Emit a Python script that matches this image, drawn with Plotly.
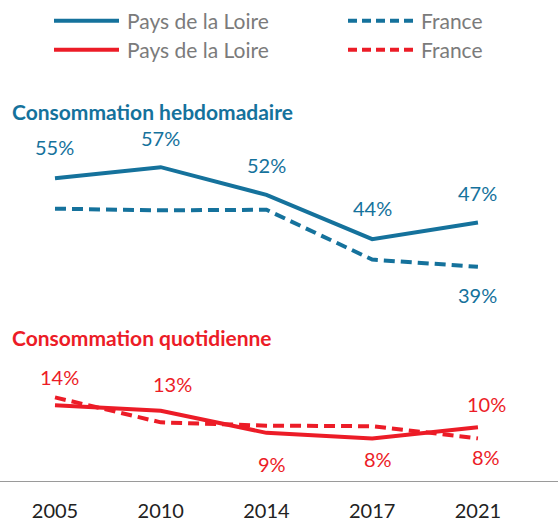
import plotly.graph_objects as go

years = ["2005", "2010", "2014", "2017", "2021"]
hebdo_pdl = [55, 57, 52, 44, 47]
hebdo_fr = [49.5, 49.2, 49.3, 40.3, 39]
quot_pdl = [14, 13, 9, 8, 10]
quot_fr = [15.4, 10.9, 10.3, 10.2, 8]

legend_labels = ["Pays de la Loire", "France"]
title_hebdo = "Consommation hebdomadaire"
title_quot = "Consommation quotidienne"

BLUE = "#15729c"
RED = "#ec1c27"
FONT = "Lato, 'Open Sans', sans-serif"

fig = go.Figure()

series = [
    (hebdo_pdl, BLUE, "solid"),
    (hebdo_fr, BLUE, "11px,6px"),
    (quot_pdl, RED, "solid"),
    (quot_fr, RED, "11px,6px"),
]
for vals, col, dash in series:
    fig.add_trace(go.Scatter(
        x=years, y=vals, mode="lines",
        line=dict(color=col, width=4, dash=dash),
        showlegend=False, hoverinfo="skip",
    ))

# data labels: (values, colour, per-point (yshift, xshift) or None)
label_specs = [
    (hebdo_pdl, BLUE, [(31, 0), (29, 0), (30, 0), (31, 0), (30, 0)]),
    (hebdo_fr, BLUE, [None, None, None, None, (-28, 0)]),
    (quot_pdl, RED, [(28, 5), (27, 12), (-31, 6), (-21, 6), (23, 9)]),
    (quot_fr, RED, [None, None, None, None, (-19, 8)]),
]
annotations = []
for vals, col, shifts in label_specs:
    for i, (v, s) in enumerate(zip(vals, shifts)):
        if s is None:
            continue
        annotations.append(dict(
            x=i, y=v, xref="x", yref="y", text=f"{round(v)}%",
            showarrow=False, yshift=s[0], xshift=s[1],
            xanchor="center", yanchor="middle",
            font=dict(family=FONT, size=20, color=col),
        ))

# section titles
annotations.append(dict(x=10 / 558, y=1 - 112 / 484, xref="paper", yref="paper",
                        xanchor="left", yanchor="middle", showarrow=False,
                        text=f"<b>{title_hebdo}</b>",
                        font=dict(family=FONT, size=21, color=BLUE)))
annotations.append(dict(x=10 / 558, y=1 - 340 / 484, xref="paper", yref="paper",
                        xanchor="left", yanchor="middle", showarrow=False,
                        text=f"<b>{title_quot}</b>",
                        font=dict(family=FONT, size=21, color=RED)))

# custom legend
shapes = []
leg_rows = [(21, BLUE), (50, RED)]
leg_cols = [(54, 119, "solid", legend_labels[0]), (348, 413, "dash", legend_labels[1])]
for ry, col in leg_rows:
    for x0, x1, dash, lab in leg_cols:
        shapes.append(dict(type="line", xref="paper", yref="paper",
                           x0=x0 / 558, x1=x1 / 558, y0=1 - ry / 484, y1=1 - ry / 484,
                           line=dict(color=col, width=4,
                                     dash="solid" if dash == "solid" else "9px,5px")))
        annotations.append(dict(x=(x1 + 6) / 558, y=1 - ry / 484, xref="paper", yref="paper",
                                xanchor="left", yanchor="middle", showarrow=False,
                                text=lab, font=dict(family=FONT, size=21, color="#7b7b7b")))

fig.update_layout(
    width=558, height=522,
    margin=dict(l=0, r=0, t=0, b=38),
    paper_bgcolor="white", plot_bgcolor="white",
    annotations=annotations, shapes=shapes,
    xaxis=dict(type="category", range=[-0.52, 4.757], showline=True,
               linecolor="#9a9a9a", linewidth=1, showgrid=False, zeroline=False,
               ticks="outside", ticklen=12, tickcolor="rgba(0,0,0,0)",
               tickfont=dict(family=FONT, size=20, color="#222222")),
    yaxis=dict(range=[0.3, 87.2], showticklabels=False, showline=False,
               showgrid=False, zeroline=False, ticks=""),
)

fig.write_html("out.html", config={"displayModeBar": False},
               post_script="document.body.style.margin='0';")
